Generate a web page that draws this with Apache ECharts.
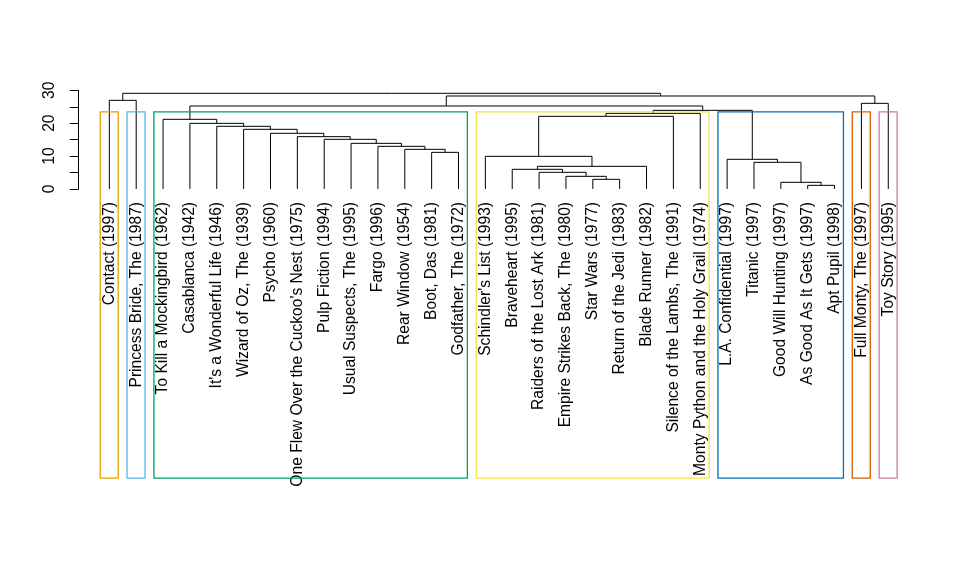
<!DOCTYPE html>
<html>
<head>
<meta charset="utf-8">
<script src="https://cdn.jsdelivr.net/npm/echarts@6/dist/echarts.min.js"></script>
<style>html,body{margin:0;padding:0;background:#fff}#c{width:960px;height:576px}</style>
</head>
<body>
<div id="c"></div>
<script>
// Leaf labels in display order (1-based indices used in merges)
const labels = [
  "Contact (1997)", "Princess Bride, The (1987)", "To Kill a Mockingbird (1962)",
  "Casablanca (1942)", "It's a Wonderful Life (1946)", "Wizard of Oz, The (1939)",
  "Psycho (1960)", "One Flew Over the Cuckoo's Nest (1975)", "Pulp Fiction (1994)",
  "Usual Suspects, The (1995)", "Fargo (1996)", "Rear Window (1954)", "Boot, Das (1981)",
  "Godfather, The (1972)", "Schindler's List (1993)", "Braveheart (1995)",
  "Raiders of the Lost Ark (1981)", "Empire Strikes Back, The (1980)", "Star Wars (1977)",
  "Return of the Jedi (1983)", "Blade Runner (1982)", "Silence of the Lambs, The (1991)",
  "Monty Python and the Holy Grail (1974)", "L.A. Confidential (1997)", "Titanic (1997)",
  "Good Will Hunting (1997)", "As Good As It Gets (1997)", "Apt Pupil (1998)",
  "Full Monty, The (1997)", "Toy Story (1995)"
];
// hclust-style merges: negative = leaf index, positive = earlier merge (1-based)
const mergeLeft  = [-27, -26, -19, -18, -17, -16, 6, -25, -24, -15, -13, -12, -11, -10, -9, -8, -7, -6, -5, -4, -3, 10, 22, 23, 21, -29, -1, 25, 27];
const mergeRight = [-28,   1, -20,   3,   4,   5, -21, 2,   8,   7, -14,  11,  12,  13, 14, 15, 16, 17, 18, 19, 20, -22, -23, 9, 24, -30, -2, 26, 28];
const mergeHeight = [1.11, 2.03, 2.94, 3.85, 5.07, 5.98, 6.89, 8.11, 9.02, 9.93,
  11.14, 12.06, 12.97, 13.88, 15.10, 15.91, 16.93, 18.14, 19.05, 19.96,
  21.18, 22.09, 23.00, 23.91, 25.23, 26.04, 26.95, 28.27, 29.08];
// rect.hclust clusters (k = 7): first and last leaf index
const clusterFirst = [1, 2, 3, 15, 24, 29, 30];
const clusterLast  = [1, 2, 14, 23, 28, 29, 30];
const clusterColors = ["#E69F00", "#56B4E9", "#009E73", "#F0E442", "#0072B2", "#D55E00", "#CC79A7"];
const yTicks = [0, 10, 20, 30];
const plotBottomValue = -87.9; // par("usr")[3] reached by rect.hclust

// derived
const K = clusterFirst.length;
const sortedH = mergeHeight.slice().sort((a, b) => b - a);
const cutHeight = (sortedH[K - 2] + sortedH[K - 1]) / 2;
const nodeX = [];
function childX(c) { return c < 0 ? -c : nodeX[c - 1]; }
function childH(c) { return c < 0 ? 0 : mergeHeight[c - 1]; }
const segData = [];
for (let i = 0; i < mergeLeft.length; i++) {
  const xl = childX(mergeLeft[i]), xr = childX(mergeRight[i]);
  nodeX.push((xl + xr) / 2);
  segData.push([xl, childH(mergeLeft[i]), xr, childH(mergeRight[i]), mergeHeight[i]]);
}
const rectData = clusterFirst.map((f, i) => [f - 0.34, clusterLast[i] + 0.33, cutHeight, plotBottomValue, i]);

const FONT = "Liberation Sans, Arial, sans-serif";
const FS = 15.6;
const chart = echarts.init(document.getElementById('c'), null, {renderer: 'canvas'});
chart.setOption({
  animation: false,
  backgroundColor: '#ffffff',
  grid: {left: 95.9, right: 58.3, top: 90.3, bottom: 387},
  xAxis: [
    {type: 'value', min: 0.5, max: 30.5, show: false},
    {type: 'category', data: labels, position: 'bottom', boundaryGap: true,
     axisLine: {show: false}, axisTick: {show: false}, splitLine: {show: false},
     axisLabel: {interval: 0, rotate: 90, margin: 13, fontSize: FS, color: '#000', fontFamily: FONT}}
  ],
  yAxis: {
    type: 'value', min: 0, max: 30, interval: 5, offset: 17.2,
    axisLine: {show: true, lineStyle: {color: '#000', width: 1}},
    axisTick: {show: true, length: 9, lineStyle: {color: '#000', width: 1}},
    splitLine: {show: false},
    axisLabel: {rotate: 90, margin: 21, fontSize: FS, color: '#000', fontFamily: FONT,
      formatter: v => yTicks.indexOf(v) >= 0 ? String(v) : ''}
  },
  series: [
    {
      type: 'custom', xAxisIndex: 0, yAxisIndex: 0, clip: false,
      data: segData,
      renderItem: function (params, api) {
        const a = api.coord([api.value(0), api.value(1)]);
        const b = api.coord([api.value(0), api.value(4)]);
        const c = api.coord([api.value(2), api.value(4)]);
        const d = api.coord([api.value(2), api.value(3)]);
        return {type: 'polyline', shape: {points: [a, b, c, d]},
          style: {stroke: '#000', lineWidth: 1, fill: null}};
      }
    },
    {
      type: 'custom', xAxisIndex: 0, yAxisIndex: 0, clip: false,
      data: rectData,
      renderItem: function (params, api) {
        const tl = api.coord([api.value(0), api.value(2)]);
        const br = api.coord([api.value(1), api.value(3)]);
        return {type: 'rect', shape: {x: tl[0], y: tl[1], width: br[0] - tl[0], height: br[1] - tl[1]},
          style: {stroke: clusterColors[api.value(4)], lineWidth: 1.3, fill: null}};
      }
    }
  ]
});
</script>
</body>
</html>
